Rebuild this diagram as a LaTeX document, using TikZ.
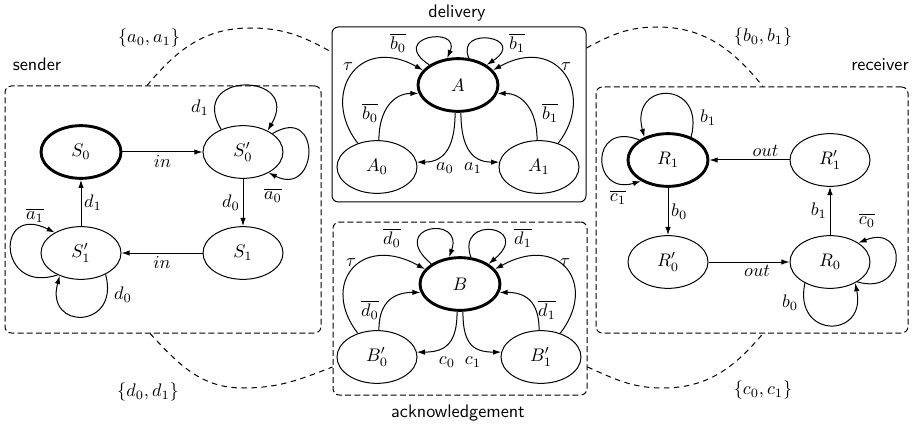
\documentclass[tikz,border=0pt]{standalone}
\usetikzlibrary{shapes.geometric,arrows.meta,calc}
\begin{document}
\begin{tikzpicture}[x=0.55pt,y=0.55pt,
 st/.style={ellipse,draw,line width=0.55pt,minimum width=44pt,minimum height=29pt,inner sep=0pt},
 init/.style={st,line width=1.6pt},
 arr/.style={-{Latex[length=4.5pt,width=3pt]},line width=0.55pt},
 lab/.style={inner sep=1.5pt},
 dbox/.style={draw,dash pattern=on 3.3pt off 1.7pt,rounded corners=3.5pt,line width=0.55pt,inner sep=0pt},
 sbox/.style={draw,rounded corners=3.5pt,line width=0.55pt,inner sep=0pt},
 bigarc/.style={dash pattern=on 3pt off 2.5pt,line width=0.55pt},
 word/.style={font=\sffamily,inner sep=0pt}]
\useasboundingbox (0,0) rectangle (912,425);

% boxes
\node[dbox,minimum width=173.8pt,minimum height=135.85pt] (sendbox) at (163,215.5) {};
\node[sbox,minimum width=139.7pt,minimum height=96.25pt] (delbox) at (459,310.5) {};
\node[dbox,minimum width=139.7pt,minimum height=95.15pt] (ackbox) at (460,116.5) {};
\node[dbox,minimum width=171.6pt,minimum height=135.3pt] (recbox) at (752,215) {};

\node[word] (wsender) at (37,361) {sender};
\node[word] (wdelivery) at (457,412) {delivery};
\node[word] (wreceiver) at (880,360) {receiver};
\node[word] (wack) at (458,12) {acknowledgement};

% big dashed arcs
\draw[bigarc] ($(sendbox.north)+(-16,0)$) to[out=50,in=180] (250,397) to[out=0,in=151] ($(delbox.west)+(0,62.5)$);
\draw[bigarc] ($(delbox.east)+(0,66.5)$) to[out=28,in=180] (657,398) to[out=0,in=129] ($(recbox.north)+(11,0)$);
\draw[bigarc] ($(sendbox.south)+(-13,0)$) to[out=-47,in=180] (243,37) to[out=0,in=-159] ($(ackbox.west)+(0,-58.5)$);
\draw[bigarc] ($(ackbox.east)+(0,-58.5)$) to[out=-24,in=180] (663,37) to[out=0,in=230] ($(recbox.south)+(11,0)$);

\node (setA) at (149,387) {$\{a_0,a_1\}$};
\node (setB) at (763,388) {$\{b_0,b_1\}$};
\node (setD) at (148,33) {$\{d_0,d_1\}$};
\node (setC) at (763,35) {$\{c_0,c_1\}$};

% sender
\node[init] (S0) at (81,273) {$S_0$};
\node[st] (S0p) at (243,273) {$S'_0$};
\node[st] (S1) at (243,172) {$S_1$};
\node[st] (S1p) at (81,172) {$S'_1$};
\draw[arr] (S0) -- node[lab,below] (lin1) {$in$} (S0p);
\draw[arr] (S0p) -- node[lab,left] (ld0) {$d_0$} (S1);
\draw[arr] (S1) -- node[lab,below] (lin2) {$in$} (S1p);
\draw[arr] (S1p) -- node[lab,right] (ld1) {$d_1$} (S0);
\draw[arr] (S0p.134) .. controls +(-35,59) and +(35,59) .. (S0p.41);
\node (ld1b) at (200,317) {$d_1$};
\draw[arr] (S0p.32) .. controls +(50,30) and +(50,-25) .. (S0p.-39);
\node (la0b) at (273,230) {$\overline{a_0}$};
\draw[arr] (S1p.223) .. controls +(-60,-20) and +(-60,30) .. (S1p.142);
\node (la1b) at (35,210) {$\overline{a_1}$};
\draw[arr] (S1p.-41) .. controls +(15,-55) and +(-15,-55) .. (S1p.-133);
\node (ld0b) at (123,130) {$d_0$};

% receiver
\node[init] (R1) at (668,265) {$R_1$};
\node[st] (R1p) at (830,265) {$R'_1$};
\node[st] (R0p) at (668,163) {$R'_0$};
\node[st] (R0) at (830,163) {$R_0$};
\draw[arr] (R1p) -- node[lab,above,pos=0.3] (lout1) {$out$} (R1);
\draw[arr] (R1) -- node[lab,right] (lb0) {$b_0$} (R0p);
\draw[arr] (R0p) -- node[lab,below,pos=0.6] (lout2) {$out$} (R0);
\draw[arr] (R0) -- node[lab,left] (lb1) {$b_1$} (R1p);
\draw[arr] (R1.45) .. controls +(15,57) and +(-15,57) .. (R1.136);
\node (lb1b) at (708,307) {$b_1$};
\draw[arr] (R1.145) .. controls +(-50,20) and +(-50,-15) .. (R1.218);
\node (lc1b) at (618,228) {$\overline{c_1}$};
\draw[arr] (R0.-36) .. controls +(50,-15) and +(50,20) .. (R0.34);
\node (lc0b) at (867,205) {$\overline{c_0}$};
\draw[arr] (R0.-140) .. controls +(-12,-56) and +(12,-56) .. (R0.-40);
\node (lb0b) at (790,122) {$b_0$};

% delivery
\node[init] (A) at (458,340) {$A$};
\node[st] (A0) at (377,258) {$A_0$};
\node[st] (A1) at (539,258) {$A_1$};
\draw[arr] (A.145) .. controls +(-42,28) and +(14,33) .. (A.112);
\node (lAb0) at (398,382) {$\overline{b_0}$};
\draw[arr] (A.68) .. controls +(-14,33) and +(42,28) .. (A.35);
\node (lAb1) at (517,382) {$\overline{b_1}$};
\draw[arr] (A0.129) .. controls +(-38,49) and +(-65,36) .. (A.157);
\node (lAt0) at (348,358) {$\tau$};
\draw[arr] (A1.51) .. controls +(38,49) and +(65,36) .. (A.23);
\node (lAt1) at (566,358) {$\tau$};
\draw[arr] (A0.86) .. controls +(0,30) and +(-25,0) .. (A.192);
\node (lAb0i) at (370,312) {$\overline{b_0}$};
\draw[arr] (A1.94) .. controls +(0,30) and +(25,0) .. (A.-12);
\node (lAb1i) at (550,312) {$\overline{b_1}$};
\draw[arr] (A.264) .. controls +(0,-30) and +(30,0) .. (A0.7);
\node (lAa0) at (445,257) {$a_0$};
\draw[arr] (A.276) .. controls +(0,-30) and +(-30,0) .. (A1.173);
\node (lAa1) at (473,257) {$a_1$};

% acknowledgement
\node[init] (B) at (460,141) {$B$};
\node[st] (B0) at (377,68) {$B'_0$};
\node[st] (B1) at (541,68) {$B'_1$};
\draw[arr] (B.145) .. controls +(-45,38) and +(15,43) .. (B.112);
\node (lBd0) at (392,187) {$\overline{d_0}$};
\draw[arr] (B.68) .. controls +(-15,43) and +(45,38) .. (B.35);
\node (lBd1) at (523,187) {$\overline{d_1}$};
\draw[arr] (B0.129) .. controls +(-38,49) and +(-65,36) .. (B.157);
\node (lBt0) at (351,162) {$\tau$};
\draw[arr] (B1.51) .. controls +(38,49) and +(65,36) .. (B.23);
\node (lBt1) at (565,162) {$\tau$};
\draw[arr] (B0.86) .. controls +(0,30) and +(-25,0) .. (B.192);
\node (lBd0i) at (370,115) {$\overline{d_0}$};
\draw[arr] (B1.94) .. controls +(0,30) and +(25,0) .. (B.-12);
\node (lBd1i) at (547,115) {$\overline{d_1}$};
\draw[arr] (B.264) .. controls +(0,-30) and +(30,0) .. (B0.7);
\node (lBc0) at (447,63) {$c_0$};
\draw[arr] (B.276) .. controls +(0,-30) and +(-30,0) .. (B1.173);
\node (lBc1) at (473,63) {$c_1$};
\end{tikzpicture}
\end{document}
